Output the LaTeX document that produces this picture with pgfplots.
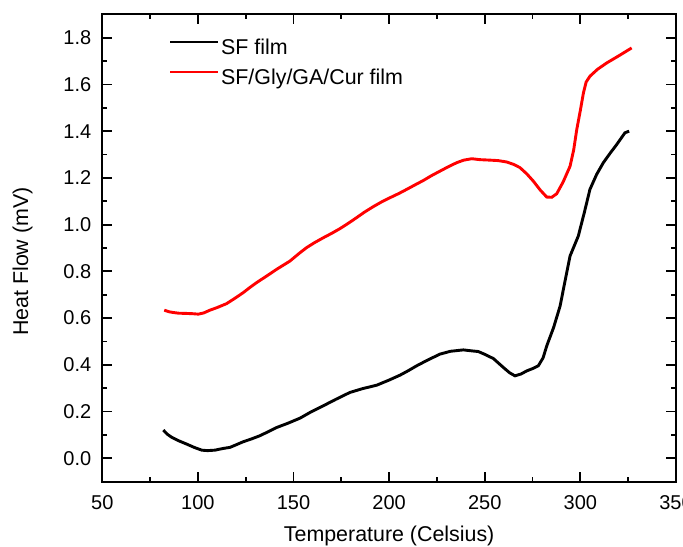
\documentclass[border=0pt]{standalone}
\usepackage{pgfplots}
\pgfplotsset{compat=1.18}
\usepackage{fontspec}
\setmainfont{Liberation Sans}
\usetikzlibrary{calc}
\begin{document}
\begin{tikzpicture}
\begin{axis}[
  name=ax,
  scale only axis=true,
  width=286.85pt, height=233.7pt,
  xmin=50, xmax=350, ymin=-0.1, ymax=1.9,
  xtick={50,100,...,350},
  ytick={0,0.2,...,1.8},
  minor x tick num=1, minor y tick num=1,
  tick align=inside,
  major tick length=5pt, minor tick length=2.5pt,
  axis line style={line width=1pt},
  every tick/.style={black, line width=0.9pt},
  tick label style={font=\fontsize{10pt}{12pt}\selectfont},
  label style={font=\fontsize{10.7pt}{12.8pt}\selectfont},
  /pgf/number format/assume math mode=true,
  yticklabel style={/pgf/number format/fixed, /pgf/number format/fixed zerofill, /pgf/number format/precision=1},
  every tick label/.append style={inner sep=0pt},
  yticklabel shift=5.3pt,
  xticklabel shift=6.6pt,
  xlabel={Temperature (Celsius)},
  ylabel={Heat Flow (mV)},
  xlabel style={at={(axis description cs:0.5,-0.1275)}, anchor=base, inner sep=0pt},
  ylabel style={at={(axis description cs:-0.139,0.471)}, anchor=center, inner sep=0pt},
  legend cell align=left,
  legend style={draw=none, fill=none, at={(rel axis cs:0.1168,0.948)}, anchor=north west, inner sep=0pt, outer sep=0pt, nodes={inner sep=0pt}, row sep=5.7pt, column sep=1.2pt, font=\fontsize{10.7pt}{12.8pt}\selectfont},
  legend image code/.code={\draw[#1, line width=1pt] (0pt,2.7pt) -- (23.7pt,2.7pt);},
]
\addplot[black, line width=1.45pt] coordinates {
(81.9,0.121) (84,0.103) (86.3,0.090) (90,0.075) (94.1,0.061) (98,0.047) (102,0.035) (105,0.033) (108.9,0.035) (113,0.042) (116.8,0.047) (120,0.058) (123.7,0.071) (128,0.083) (132.5,0.097) (137,0.115) (141.2,0.132) (147,0.150) (153.4,0.172) (159,0.198) (165.6,0.225) (172,0.252) (179.5,0.282) (186,0.298) (193.5,0.313) (200,0.335) (205.7,0.356) (210,0.375) (214.4,0.396) (220,0.420) (226.6,0.446) (232,0.458) (238.8,0.464) (243,0.460) (246.6,0.457) (250,0.445) (254.5,0.427) (259.7,0.389) (263,0.366) (265.8,0.353) (269,0.361) (271.9,0.374) (275,0.384) (278,0.396) (280.5,0.430) (282.4,0.481) (286,0.560) (289.4,0.652) (292,0.760) (294.6,0.866) (298.9,0.951) (302,1.050) (305,1.151) (308.5,1.215) (312,1.265) (315.5,1.305) (319,1.343) (323.3,1.393) (325.5,1.400)
};
\addlegendentry{SF film}
\addplot[red, line width=1.45pt] coordinates {
(82.4,0.634) (85,0.627) (87.1,0.624) (90,0.621) (94.1,0.620) (97,0.619) (100.2,0.617) (103,0.622) (106.3,0.634) (110,0.645) (115.0,0.662) (119,0.683) (123.7,0.709) (127,0.730) (130.7,0.752) (135,0.775) (141.2,0.809) (148.1,0.844) (153.4,0.880) (156.9,0.902) (161,0.923) (165.6,0.944) (170,0.963) (174.3,0.983) (178.5,1.005) (183.0,1.030) (187,1.053) (191.7,1.077) (196,1.097) (200.4,1.115) (205,1.133) (209.2,1.151) (213.5,1.170) (217.9,1.189) (222,1.209) (226.6,1.229) (231,1.248) (235.3,1.265) (239,1.276) (243.2,1.282) (247.5,1.278) (252.7,1.276) (257,1.274) (261.5,1.268) (265,1.258) (268.4,1.244) (272,1.217) (275.4,1.186) (279,1.148) (282.4,1.118) (285,1.117) (287.6,1.132) (291,1.183) (294.6,1.250) (296.5,1.320) (298.1,1.407) (300,1.490) (301.6,1.564) (303,1.610) (305.0,1.635) (309,1.665) (313.8,1.692) (320,1.722) (326.8,1.756)
};
\addlegendentry{SF/Gly/GA/Cur film}
\coordinate (bl) at (rel axis cs:0,0);
\coordinate (tr) at (rel axis cs:1,1);
\end{axis}
\pgfresetboundingbox
\path[use as bounding box] ($(bl)+(-51.15pt,-32.15pt)$) rectangle ($(tr)+(3.5pt,7.15pt)$);
\end{tikzpicture}
\end{document}
